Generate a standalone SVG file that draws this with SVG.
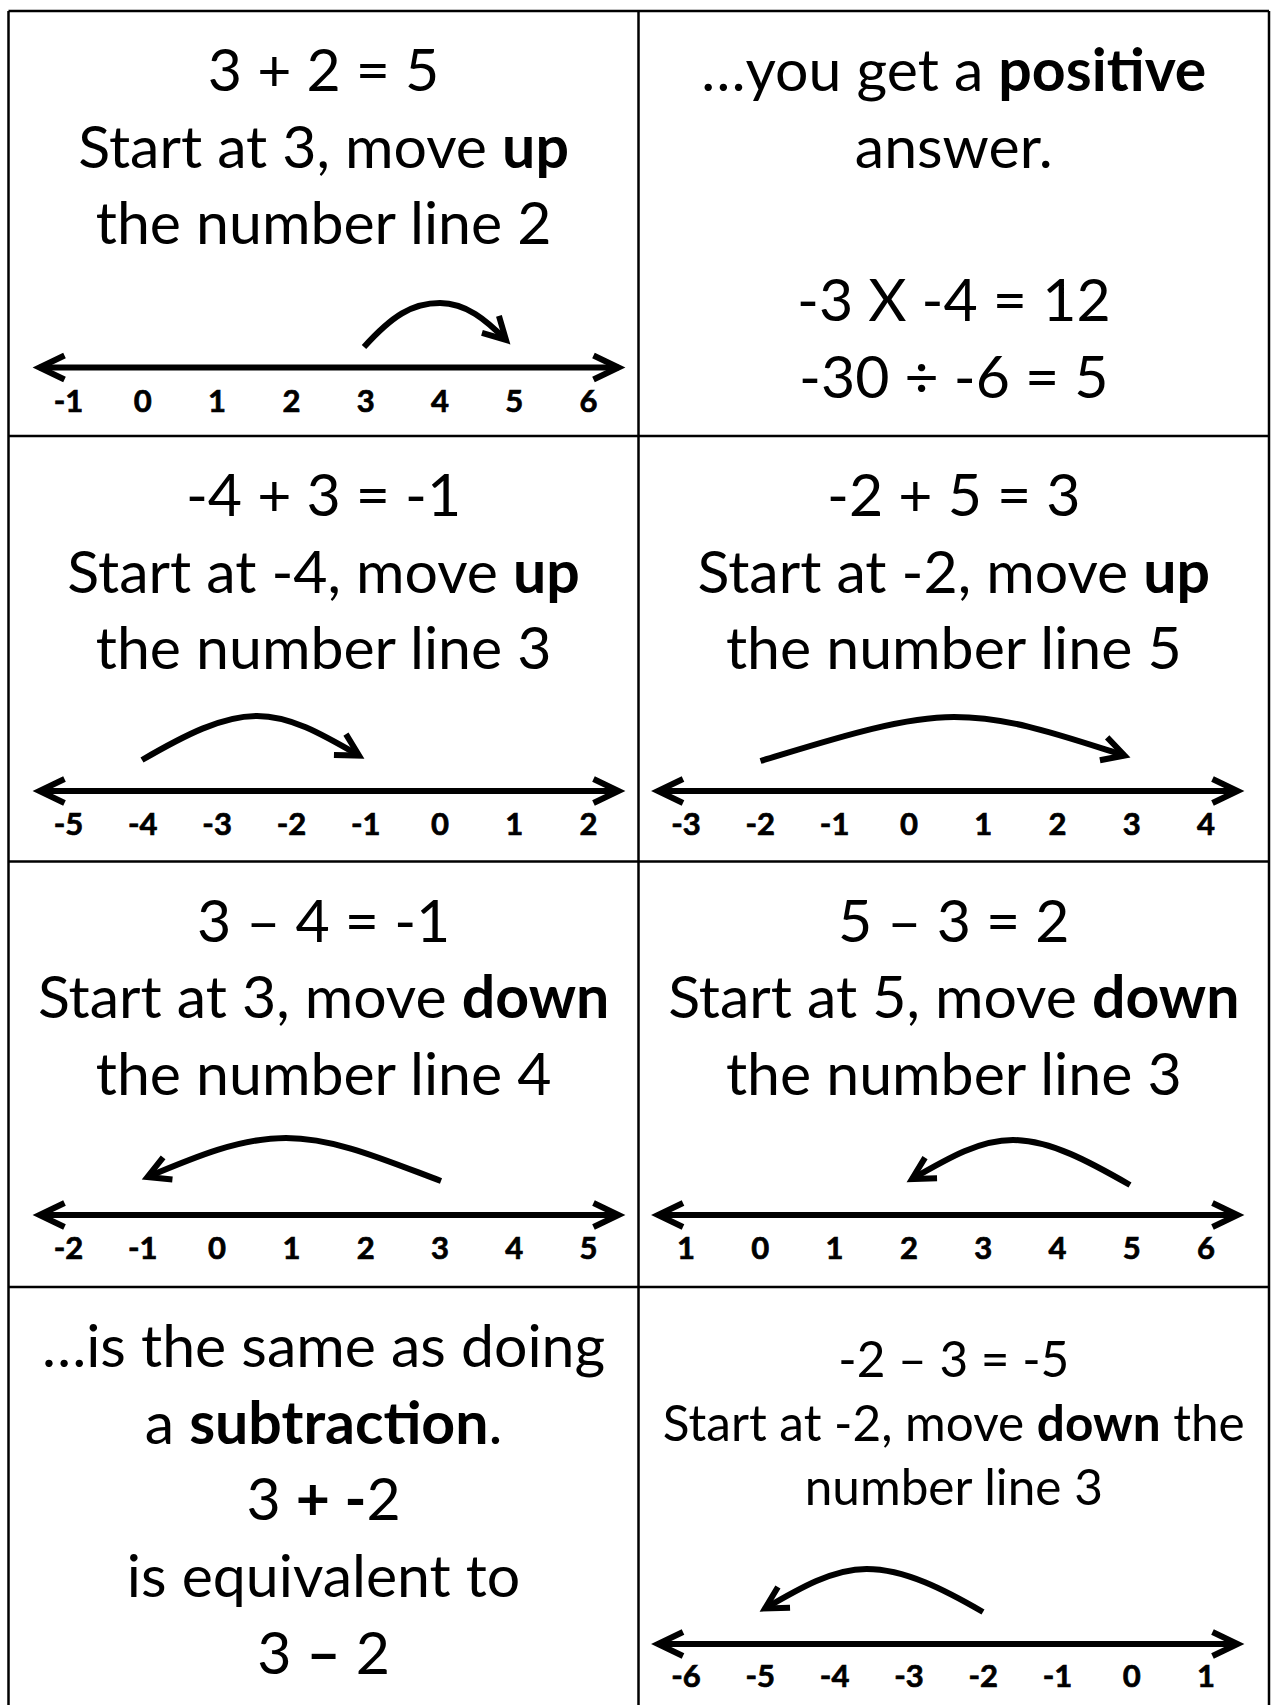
<svg xmlns="http://www.w3.org/2000/svg" width="1276" height="1705" viewBox="0 0 1276 1705">
<style>
.t{font-family:Lato,"Liberation Sans",sans-serif;font-size:59px;fill:#000;text-anchor:middle}
.s{font-family:Lato,"Liberation Sans",sans-serif;font-size:49.5px;fill:#000;text-anchor:middle}
.b{font-weight:bold}
.lab{font-family:Lato,"Liberation Sans",sans-serif;font-size:31px;font-weight:bold;fill:#000;stroke:#000;stroke-width:0.7;text-anchor:middle}
.grid{stroke:#000;stroke-width:2.5;fill:none}
.nl{stroke:#000;stroke-width:6;fill:none;marker-start:url(#nh);marker-end:url(#nh)}
.arc{stroke:#000;stroke-width:6;fill:none;marker-end:url(#ch)}
</style>
<defs>
<marker id="nh" markerUnits="userSpaceOnUse" orient="auto-start-reverse" overflow="visible" refX="0" refY="0" markerWidth="1" markerHeight="1">
<path d="M-25,-12 L0,0 L-25,12" fill="none" stroke="#000" stroke-width="6" stroke-linejoin="miter"/>
</marker>
<marker id="ch" markerUnits="userSpaceOnUse" orient="auto" overflow="visible" refX="0" refY="0" markerWidth="1" markerHeight="1">
<path d="M-22,-12 L0,0 L-22,12" fill="none" stroke="#000" stroke-width="6" stroke-linejoin="miter"/>
</marker>
</defs>
<rect x="0" y="0" width="1276" height="1705" fill="#fff"/>
<g id="grid" class="grid">
<line x1="8.5" y1="11" x2="8.5" y2="1705"/>
<line x1="1269" y1="11" x2="1269" y2="1705"/>
<line x1="638.5" y1="11" x2="638.5" y2="1705"/>
<line x1="8.5" y1="11" x2="1269" y2="11"/>
<line x1="8.5" y1="436" x2="1269" y2="436"/>
<line x1="8.5" y1="861.5" x2="1269" y2="861.5"/>
<line x1="8.5" y1="1287" x2="1269" y2="1287"/>
</g>
<g id="cell1">
<text class="t" x="323.6" y="91">3 + 2 = 5</text>
<text class="t" x="323.6" y="167.7">Start at 3, move <tspan class="b">up</tspan></text>
<text class="t" x="323.6" y="244.4">the number line 2</text>
<g class="lab"><text x="68.5" y="411.5">-1</text><text x="142.8" y="411.5">0</text><text x="217.1" y="411.5">1</text><text x="291.4" y="411.5">2</text><text x="365.7" y="411.5">3</text><text x="440" y="411.5">4</text><text x="514.3" y="411.5">5</text><text x="588.6" y="411.5">6</text></g>
</g>
<g id="cell2">
<text class="t" x="953.8" y="91">…you get a <tspan class="b">positive</tspan></text>
<text class="t" x="953.8" y="167.7">answer.</text>
<text class="t" x="953.8" y="321.1">-3 X -4 = 12</text>
<text class="t" x="953.8" y="397.8">-30 ÷ -6 = 5</text>
</g>
<g id="cell3">
<text class="t" x="323.6" y="516">-4 + 3 = -1</text>
<text class="t" x="323.6" y="592.7">Start at -4, move <tspan class="b">up</tspan></text>
<text class="t" x="323.6" y="669.4">the number line 3</text>
<g class="lab"><text x="68.5" y="834.5">-5</text><text x="142.8" y="834.5">-4</text><text x="217.1" y="834.5">-3</text><text x="291.4" y="834.5">-2</text><text x="365.7" y="834.5">-1</text><text x="440" y="834.5">0</text><text x="514.3" y="834.5">1</text><text x="588.6" y="834.5">2</text></g>
</g>
<g id="cell4">
<text class="t" x="953.8" y="516">-2 + 5 = 3</text>
<text class="t" x="953.8" y="592.7">Start at -2, move <tspan class="b">up</tspan></text>
<text class="t" x="953.8" y="669.4">the number line 5</text>
<g class="lab"><text x="686" y="834.5">-3</text><text x="760.3" y="834.5">-2</text><text x="834.6" y="834.5">-1</text><text x="908.9" y="834.5">0</text><text x="983.2" y="834.5">1</text><text x="1057.5" y="834.5">2</text><text x="1131.8" y="834.5">3</text><text x="1206.1" y="834.5">4</text></g>
</g>
<g id="cell5">
<text class="t" x="323.6" y="941.5">3 – 4 = -1</text>
<text class="t" x="323.6" y="1018.2">Start at 3, move <tspan class="b">down</tspan></text>
<text class="t" x="323.6" y="1094.9">the number line 4</text>
<g class="lab"><text x="68.5" y="1258.5">-2</text><text x="142.8" y="1258.5">-1</text><text x="217.1" y="1258.5">0</text><text x="291.4" y="1258.5">1</text><text x="365.7" y="1258.5">2</text><text x="440" y="1258.5">3</text><text x="514.3" y="1258.5">4</text><text x="588.6" y="1258.5">5</text></g>
</g>
<g id="cell6">
<text class="t" x="953.8" y="941.5">5 – 3 = 2</text>
<text class="t" x="953.8" y="1018.2">Start at 5, move <tspan class="b">down</tspan></text>
<text class="t" x="953.8" y="1094.9">the number line 3</text>
<g class="lab"><text x="686" y="1258.5">1</text><text x="760.3" y="1258.5">0</text><text x="834.6" y="1258.5">1</text><text x="908.9" y="1258.5">2</text><text x="983.2" y="1258.5">3</text><text x="1057.5" y="1258.5">4</text><text x="1131.8" y="1258.5">5</text><text x="1206.1" y="1258.5">6</text></g>
</g>
<g id="cell7">
<text class="t" x="323.6" y="1367">…is the same as doing</text>
<text class="t" x="323.6" y="1443.7">a <tspan class="b">subtraction</tspan>.</text>
<text class="t" x="323.6" y="1520.4">3 <tspan class="b">+ -</tspan>2</text>
<text class="t" x="323.6" y="1597.1">is equivalent to</text>
<text class="t" x="323.6" y="1673.8">3 <tspan class="b">–</tspan> 2</text>
</g>
<g id="cell8">
<text class="s" x="953.8" y="1377">-2 – 3 = -5</text>
<text class="s" x="953.8" y="1441">Start at -2, move <tspan class="b">down</tspan> the</text>
<text class="s" x="953.8" y="1505">number line 3</text>
<g class="lab"><text x="686" y="1687">-6</text><text x="760.3" y="1687">-5</text><text x="834.6" y="1687">-4</text><text x="908.9" y="1687">-3</text><text x="983.2" y="1687">-2</text><text x="1057.5" y="1687">-1</text><text x="1131.8" y="1687">0</text><text x="1206.1" y="1687">1</text></g>
</g>
<g id="connectors">
<line class="nl" x1="39.5" y1="367.5" x2="618.5" y2="367.5"/>
<line class="nl" x1="39.5" y1="791" x2="618.5" y2="791"/>
<line class="nl" x1="658" y1="791" x2="1237.5" y2="791"/>
<line class="nl" x1="39.5" y1="1215" x2="618.5" y2="1215"/>
<line class="nl" x1="658" y1="1215" x2="1237.5" y2="1215"/>
<line class="nl" x1="658" y1="1644" x2="1237.5" y2="1644"/>
<path class="arc" d="M364,347 C392,316 412,303 440,303 C466,303 486,320 506,340"/>
<path class="arc" d="M142,760 C185,735 222,716 257,716 C290,716 320,733 359,755.5"/>
<path class="arc" d="M760.5,761 C830,740 900,717 954,717 C1010,717 1060,735 1124.5,755.5"/>
<path class="arc" d="M441,1181 C385,1160 335,1138 286,1138 C240,1138 195,1157 147.5,1177"/>
<path class="arc" d="M1130,1185 C1090,1162 1050,1140 1013,1140 C980,1140 950,1157 912,1179"/>
<path class="arc" d="M983,1612 C945,1590 905,1569 866.6,1569 C833,1569 800,1588 765,1608.5"/>
</g>
</svg>
